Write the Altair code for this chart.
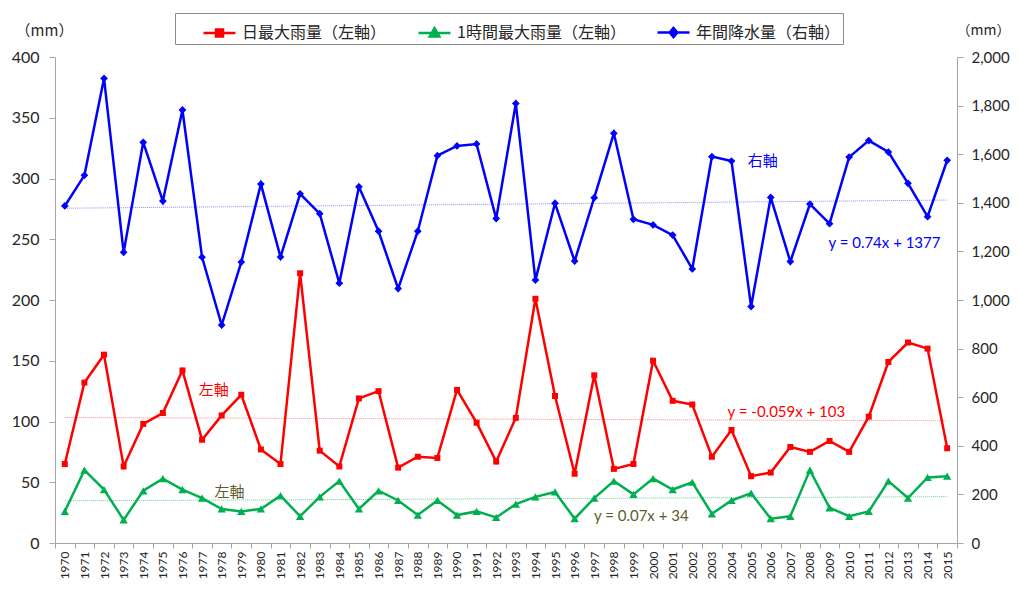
import altair as alt
import pandas as pd

years = list(range(1970, 2016))

daily_max = [65, 132, 155, 63, 98, 107, 142, 85, 105, 122,
             77, 65, 222, 76, 63, 119, 125, 62, 71, 70,
             126, 99, 67, 103, 201, 121, 57, 138, 61, 65,
             150, 117, 114, 71, 93, 55, 58, 79, 75, 84,
             75, 104, 149, 165, 160, 78]

hourly_max = [26, 60, 44, 19, 43, 53, 44, 37, 28, 26,
              28, 39, 22, 38, 51, 28, 43, 35, 23, 35,
              23, 26, 21, 32, 38, 42, 20, 37, 51, 40,
              53, 44, 50, 24, 35, 41, 20, 22, 60, 29,
              22, 26, 51, 37, 54, 55]

annual = [1387, 1513, 1912, 1196, 1649, 1407, 1782, 1176, 897, 1156,
          1477, 1177, 1437, 1355, 1069, 1466, 1283, 1047, 1283, 1594,
          1634, 1642, 1335, 1809, 1082, 1398, 1160, 1421, 1686, 1332,
          1309, 1267, 1128, 1590, 1572, 973, 1422, 1158, 1395, 1314,
          1588, 1656, 1609, 1480, 1343, 1575]

series_names = ["日最大雨量（左軸）", "1時間最大雨量（左軸）", "年間降水量（右軸）"]
series_colors = ["#FF0000", "#00B050", "#0000FF"]
legend_shapes = [
    "M-1,0H1M-0.22,-0.22H0.22V0.22H-0.22Z",
    "M-1,0H1M0,-0.3L0.3,0.22H-0.3Z",
    "M-1,0H1M0,-0.28L0.24,0L0,0.28L-0.24,0Z",
]

# annotations (left axis)
left_jp_text = ["左軸", "左軸"]
left_jp_year = [1977.6, 1978.4]
left_jp_value = [126, 42]
left_jp_color = ["#FF0000", "#5E5B2E"]

left_eq_text = ["y = -0.059x + 103", "y = 0.07x + 34"]
left_eq_year = [2006.8, 1999.4]
left_eq_value = [108, 22]
left_eq_color = ["#FF0000", "#5E5B2E"]

# annotations (right axis)
right_jp_text = ["右軸"]
right_jp_year = [2005.6]
right_jp_value = [1572]
right_eq_text = ["y = 0.74x + 1377"]
right_eq_year = [2011.8]
right_eq_value = [1234]

df_d = pd.DataFrame({"year": years, "value": daily_max})
df_h = pd.DataFrame({"year": years, "value": hourly_max})
df_a = pd.DataFrame({"year": years, "value": annual})
df_leg = pd.DataFrame({"series": series_names})
df_ljp = pd.DataFrame({"year": left_jp_year, "value": left_jp_value, "label": left_jp_text, "c": left_jp_color})
df_leq = pd.DataFrame({"year": left_eq_year, "value": left_eq_value, "label": left_eq_text, "c": left_eq_color})
df_rjp = pd.DataFrame({"year": right_jp_year, "value": right_jp_value, "label": right_jp_text})
df_req = pd.DataFrame({"year": right_eq_year, "value": right_eq_value, "label": right_eq_text})

AX = "#A6A6A6"
TXT = "#262626"
JP = "Noto Sans CJK JP"
LAT = "Lato"

x_axis = alt.Axis(
    values=[y - 0.5 for y in years] + [2015.5],
    labelExpr="datum.value > 2015 ? '' : toString(datum.value + 0.5)",
    labelAngle=-90, labelAlign="right", labelBaseline="middle",
    labelOffset=9.8, labelOverlap=False, labelFlush=False,
    labelFont=LAT, labelFontSize=12, labelColor=TXT, labelPadding=3,
    tickSize=5, tickColor=AX, domainColor=AX, grid=False, title=None,
)
X = alt.X("year:Q", scale=alt.Scale(domain=[1969.5, 2015.5], nice=False, zero=False), axis=x_axis)

left_axis = alt.Axis(
    values=list(range(0, 401, 50)), grid=False, tickSize=6, tickColor=AX, domainColor=AX,
    labelFont=LAT, labelFontSize=16, labelColor=TXT, labelPadding=10,
    title="（mm）", titleAngle=0, titleX=-11, titleY=-27, titleAlign="center",
    titleBaseline="middle", titleFont=JP, titleFontSize=15, titleFontWeight="normal", titleColor=TXT,
)
right_axis = alt.Axis(
    orient="right", values=list(range(0, 2001, 200)), format=",.0f", grid=False, tickSize=6,
    tickColor=AX, domainColor=AX,
    labelFont=LAT, labelFontSize=15, labelColor=TXT, labelPadding=8,
    title="（mm）", titleAngle=0, titleX=26, titleY=-27, titleAlign="center",
    titleBaseline="middle", titleFont=JP, titleFontSize=14, titleFontWeight="normal", titleColor=TXT,
)
YL = alt.Y("value:Q", scale=alt.Scale(domain=[0, 400], nice=False), axis=left_axis)
YR = alt.Y("value:Q", scale=alt.Scale(domain=[0, 2000], nice=False), axis=right_axis)

# left group
bd = alt.Chart(df_d)
bh = alt.Chart(df_h)
red_trend = bd.transform_regression("year", "value").mark_line(
    color="#FF8C8C", strokeWidth=1, strokeDash=[1, 1]).encode(x=X, y=YL)
green_trend = bh.transform_regression("year", "value").mark_line(
    color="#66CC8F", strokeWidth=1, strokeDash=[1, 1]).encode(x=X, y=YL)
red_line = bd.mark_line(color="#FF0000", strokeWidth=2.5).encode(x=X, y=YL)
red_pts = bd.mark_point(shape="square", filled=True, size=36, color="#FF0000", opacity=1).encode(x=X, y=YL)
green_line = bh.mark_line(color="#00B050", strokeWidth=2.5).encode(x=X, y=YL)
green_pts = bh.mark_point(shape="triangle-up", filled=True, size=70, color="#00B050", opacity=1).encode(x=X, y=YL)
ljp = alt.Chart(df_ljp).mark_text(font=JP, fontSize=15).encode(
    x=X, y=YL, text="label:N", color=alt.Color("c:N", scale=None))
leq = alt.Chart(df_leq).mark_text(font=LAT, fontSize=15).encode(
    x=X, y=YL, text="label:N", color=alt.Color("c:N", scale=None))

leg = alt.Legend(
    title=None, orient="none", legendX=120, legendY=-44, direction="horizontal",
    labelFont=JP, labelFontSize=16, labelColor=TXT, labelOffset=5, labelLimit=400,
    symbolSize=1024, symbolStrokeWidth=2.5, symbolOffset=25,
    padding=2, strokeColor="#8C8C8C", fillColor="white", columnPadding=5,
)
cscale = alt.Scale(domain=series_names, range=series_colors)
sscale = alt.Scale(domain=series_names, range=legend_shapes)
legend_layer = alt.Chart(df_leg).mark_point(filled=True, clip=True, size=1024, strokeWidth=2.5, opacity=1).encode(
    x=alt.value(-300), y=alt.value(-300),
    fill=alt.Fill("series:N", scale=cscale, legend=leg),
    stroke=alt.Stroke("series:N", scale=cscale, legend=leg),
    shape=alt.Shape("series:N", scale=sscale, legend=leg),
)

left_group = alt.layer(red_trend, green_trend, red_line, green_line, red_pts, green_pts, ljp, leq, legend_layer)

# right group
ba = alt.Chart(df_a)
blue_trend = ba.transform_regression("year", "value").mark_line(
    color="#8C8CFF", strokeWidth=1, strokeDash=[1, 1]).encode(x=X, y=YR)
blue_line = ba.mark_line(color="#0000FF", strokeWidth=2.5).encode(x=X, y=YR)
blue_pts = ba.mark_point(shape="diamond", filled=True, size=60, color="#0000FF", opacity=1).encode(x=X, y=YR)
rjp = alt.Chart(df_rjp).mark_text(font=JP, fontSize=15, color="#0000FF").encode(x=X, y=YR, text="label:N")
req = alt.Chart(df_req).mark_text(font=LAT, fontSize=15, color="#0000FF").encode(x=X, y=YR, text="label:N")
right_group = alt.layer(blue_trend, blue_line, blue_pts, rjp, req)

chart = alt.layer(left_group, right_group).resolve_scale(y="independent").properties(
    width=902, height=486,
    padding={"left": 47, "top": 49, "right": 54, "bottom": 39},
    autosize=alt.AutoSizeParams(type="none"),
    background="white",
).configure_view(stroke=None)

chart.save("out.html", embed_options={"renderer": "svg", "actions": False})
